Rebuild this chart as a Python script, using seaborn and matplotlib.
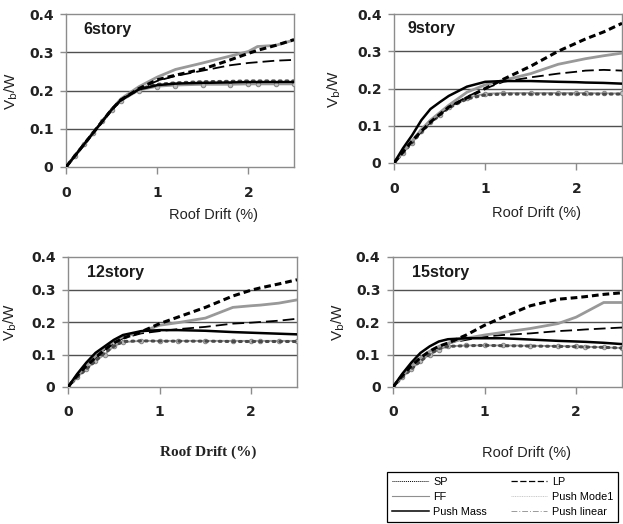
import numpy as np
import pandas as pd
import matplotlib
matplotlib.use("Agg")
import matplotlib.pyplot as plt
from matplotlib.lines import Line2D
import seaborn as sns

# Roof drift (%) at which each pushover / dynamic curve is sampled
drift = [0, 0.1, 0.2, 0.3, 0.4, 0.5, 0.6, 0.8, 1.0, 1.2, 1.5, 1.8, 2.0, 2.1, 2.3, 2.5]

stories = ["6story", "9story", "12story", "15story"]

# Base shear ratio Vb/W for each analysis, per building
sp_6 = [0, 0.03, 0.06, 0.09, 0.12, 0.15, 0.175, 0.205, 0.228, 0.240, 0.256, 0.280, 0.297, 0.305, 0.318, 0.333]
lp_6 = [0, 0.03, 0.06, 0.09, 0.12, 0.15, 0.175, 0.205, 0.225, 0.238, 0.252, 0.266, 0.272, 0.274, 0.278, 0.280]
ff_6 = [0, 0.03, 0.06, 0.09, 0.12, 0.15, 0.178, 0.210, 0.235, 0.255, 0.272, 0.290, 0.302, 0.315, 0.318, 0.332]
mass_6 = [0, 0.03, 0.06, 0.09, 0.12, 0.15, 0.175, 0.203, 0.214, 0.218, 0.220, 0.221, 0.222, 0.222, 0.222, 0.222]
mode1_6 = [0, 0.03, 0.06, 0.09, 0.12, 0.15, 0.172, 0.200, 0.210, 0.213, 0.215, 0.215, 0.216, 0.216, 0.216, 0.216]
linear_6 = [0, 0.03, 0.06, 0.09, 0.12, 0.15, 0.174, 0.204, 0.216, 0.220, 0.223, 0.224, 0.225, 0.225, 0.225, 0.225]

sp_9 = [0, 0.03, 0.06, 0.085, 0.11, 0.13, 0.15, 0.175, 0.200, 0.225, 0.260, 0.300, 0.322, 0.333, 0.352, 0.375]
lp_9 = [0, 0.03, 0.06, 0.085, 0.11, 0.13, 0.15, 0.178, 0.200, 0.218, 0.230, 0.240, 0.245, 0.248, 0.250, 0.248]
ff_9 = [0, 0.03, 0.06, 0.09, 0.115, 0.135, 0.155, 0.190, 0.210, 0.222, 0.240, 0.265, 0.275, 0.280, 0.288, 0.295]
mass_9 = [0, 0.04, 0.075, 0.115, 0.145, 0.163, 0.180, 0.205, 0.218, 0.220, 0.220, 0.218, 0.217, 0.216, 0.215, 0.213]
mode1_9 = [0, 0.028, 0.055, 0.085, 0.11, 0.13, 0.15, 0.175, 0.186, 0.188, 0.188, 0.188, 0.188, 0.188, 0.187, 0.187]
linear_9 = [0, 0.028, 0.055, 0.083, 0.108, 0.128, 0.148, 0.172, 0.183, 0.185, 0.185, 0.185, 0.185, 0.185, 0.185, 0.185]

sp_12 = [0, 0.035, 0.065, 0.09, 0.115, 0.135, 0.150, 0.170, 0.195, 0.215, 0.245, 0.280, 0.298, 0.305, 0.317, 0.330]
lp_12 = [0, 0.035, 0.065, 0.09, 0.115, 0.135, 0.150, 0.165, 0.172, 0.178, 0.185, 0.195, 0.198, 0.200, 0.204, 0.210]
ff_12 = [0, 0.035, 0.065, 0.095, 0.12, 0.14, 0.155, 0.170, 0.190, 0.198, 0.212, 0.245, 0.250, 0.252, 0.258, 0.268]
mass_12 = [0, 0.04, 0.075, 0.105, 0.125, 0.145, 0.160, 0.172, 0.175, 0.175, 0.173, 0.169, 0.167, 0.166, 0.164, 0.162]
mode1_12 = [0, 0.03, 0.055, 0.08, 0.10, 0.125, 0.138, 0.142, 0.142, 0.142, 0.142, 0.142, 0.142, 0.142, 0.142, 0.142]
linear_12 = [0, 0.03, 0.055, 0.08, 0.105, 0.125, 0.140, 0.142, 0.141, 0.141, 0.141, 0.140, 0.140, 0.140, 0.140, 0.140]

sp_15 = [0, 0.035, 0.065, 0.09, 0.11, 0.125, 0.135, 0.160, 0.190, 0.215, 0.250, 0.270, 0.275, 0.278, 0.285, 0.290]
lp_15 = [0, 0.035, 0.065, 0.09, 0.11, 0.125, 0.135, 0.145, 0.155, 0.160, 0.165, 0.172, 0.175, 0.177, 0.180, 0.183]
ff_15 = [0, 0.035, 0.065, 0.09, 0.11, 0.125, 0.135, 0.150, 0.160, 0.168, 0.180, 0.195, 0.215, 0.230, 0.260, 0.260]
mass_15 = [0, 0.04, 0.075, 0.105, 0.125, 0.140, 0.147, 0.150, 0.150, 0.150, 0.146, 0.142, 0.140, 0.139, 0.136, 0.132]
mode1_15 = [0, 0.03, 0.055, 0.08, 0.10, 0.115, 0.125, 0.128, 0.128, 0.128, 0.127, 0.126, 0.125, 0.124, 0.122, 0.120]
linear_15 = [0, 0.03, 0.055, 0.08, 0.10, 0.118, 0.125, 0.127, 0.128, 0.127, 0.126, 0.125, 0.124, 0.123, 0.122, 0.120]

series_names = ["SP", "LP", "FF", "Push Mass", "Push Mode1", "Push linear"]
curves = {
    "6story": [sp_6, lp_6, ff_6, mass_6, mode1_6, linear_6],
    "9story": [sp_9, lp_9, ff_9, mass_9, mode1_9, linear_9],
    "12story": [sp_12, lp_12, ff_12, mass_12, mode1_12, linear_12],
    "15story": [sp_15, lp_15, ff_15, mass_15, mode1_15, linear_15],
}

x_ticks = [0, 1, 2]
y_ticks = [0, 0.1, 0.2, 0.3, 0.4]
y_tick_labels = ["0", "0.1", "0.2", "0.3", "0.4"]

# line appearance inside the panels
plot_styles = {
    "Push Mode1": dict(color="#9a9a9a", lw=1.3, marker="o", markersize=3.2,
                       markerfacecolor="#bdbdbd", markeredgecolor="#8a8a8a", zorder=3),
    "Push linear": dict(color="#4a4a4a", lw=2.2, linestyle=(0, (0.6, 1.6)),
                        dash_capstyle="round", zorder=3),
    "LP": dict(color="black", lw=1.3, linestyle=(0, (6.5, 2.8)), zorder=4),
    "FF": dict(color="#999999", lw=2.0, zorder=4),
    "Push Mass": dict(color="black", lw=1.8, zorder=5),
    "SP": dict(color="black", lw=2.2, linestyle=(0, (2.2, 1.3)), zorder=6),
}

fig = plt.figure(figsize=(6.23, 5.24), dpi=100)
W, H = 623, 524

# axes boxes in pixels: left, top, right, bottom
boxes = {
    "6story": (66, 14, 294, 167),
    "9story": (394, 14, 622, 163),
    "12story": (68, 257, 297, 387),
    "15story": (393, 257, 622, 387),
}
title_pos = {"6story": (0.075, 0.90), "9story": (0.06, 0.905),
             "12story": (0.083, 0.877), "15story": (0.083, 0.877)}
xlabel_pos = {"6story": (0.645, -0.27), "9story": (0.627, -0.29),
              "12story": (0.61, -0.45), "15story": (0.585, -0.45)}
ylabel_x = {"6story": -0.20, "9story": -0.224, "12story": -0.214, "15story": -0.20}
xtick_pad = {"6story": 9, "9story": 9, "12story": 8, "15story": 8}

grid_color = "#505050"
spine_color = "#8c8c8c"

for story in stories:
    l, t, r, b = boxes[story]
    ax = fig.add_axes([l / W, 1 - b / H, (r - l) / W, (b - t) / H])
    df = pd.DataFrame({"drift": drift})
    for name, vals in zip(series_names, curves[story]):
        df[name] = vals
    for name in ["Push Mode1", "Push linear", "LP", "FF", "Push Mass", "SP"]:
        st = dict(plot_styles[name])
        sns.lineplot(data=df, x="drift", y=name, ax=ax, estimator=None,
                     sort=False, legend=False, **st)
    ax.set_xlim(0, 2.5)
    ax.set_ylim(0, 0.4)
    ax.set_xticks(x_ticks)
    ax.set_xticklabels([str(v) for v in x_ticks])
    ax.set_yticks(y_ticks)
    ax.set_yticklabels(y_tick_labels)
    for y in y_ticks[1:-1]:
        ax.axhline(y, color=grid_color, lw=1.0, zorder=1)
    for s in ax.spines.values():
        s.set_color(spine_color)
        s.set_linewidth(1.0)
    ax.tick_params(axis="x", direction="out", length=5, width=1, color=spine_color,
                   pad=xtick_pad[story], labelsize=10)
    ax.tick_params(axis="y", direction="out", length=4, width=1, color=spine_color,
                   pad=5, labelsize=10)
    for lab in ax.get_xticklabels() + ax.get_yticklabels():
        lab.set_fontweight("bold")
        lab.set_family("DejaVu Sans")
        lab.set_color("#222222")
    ax.text(title_pos[story][0], title_pos[story][1], story, transform=ax.transAxes,
            ha="left", va="center", fontsize=11.5, fontweight="bold",
            family="Liberation Sans", color="#1a1a1a")
    if story == "12story":
        ax.set_xlabel("Roof Drift (%)", fontsize=11, family="Liberation Serif",
                      fontweight="bold", color="#222222")
    else:
        ax.set_xlabel("Roof Drift (%)", fontsize=10.5, family="Liberation Sans",
                      color="#222222")
    ax.xaxis.set_label_coords(*xlabel_pos[story])
    ax.set_ylabel(r"V$_\mathrm{b}$/W", fontsize=11, family="Liberation Sans",
                  color="#222222")
    ax.yaxis.set_label_coords(ylabel_x[story], 0.5)

# legend with the line keys
legend_styles = {
    "SP": dict(color="black", lw=0.7, linestyle=(0, (1, 1))),
    "FF": dict(color="#8f8f8f", lw=0.8),
    "Push Mass": dict(color="black", lw=1.1),
    "LP": dict(color="black", lw=0.9, linestyle=(0, (5, 2))),
    "Push Mode1": dict(color="#c8c8c8", lw=0.7, linestyle=(0, (1, 0.8))),
    "Push linear": dict(color="#9a9a9a", lw=0.7, linestyle=(0, (6, 2, 1, 2))),
}
order = ["SP", "FF", "Push Mass", "LP", "Push Mode1", "Push linear"]
handles = [Line2D([], [], **legend_styles[n]) for n in order]
leg = fig.legend(handles, order, loc="upper left",
                 bbox_to_anchor=(387 / W, 1 - 472 / H), ncol=2,
                 prop={"family": "Liberation Sans", "size": 7.8},
                 frameon=True, fancybox=False, edgecolor="black", framealpha=1,
                 handlelength=3.4, handletextpad=0.4, columnspacing=2.2,
                 labelspacing=0.45, borderpad=0.45, borderaxespad=0)
leg.get_frame().set_linewidth(0.9)

fig.savefig("out.png", dpi=100)
